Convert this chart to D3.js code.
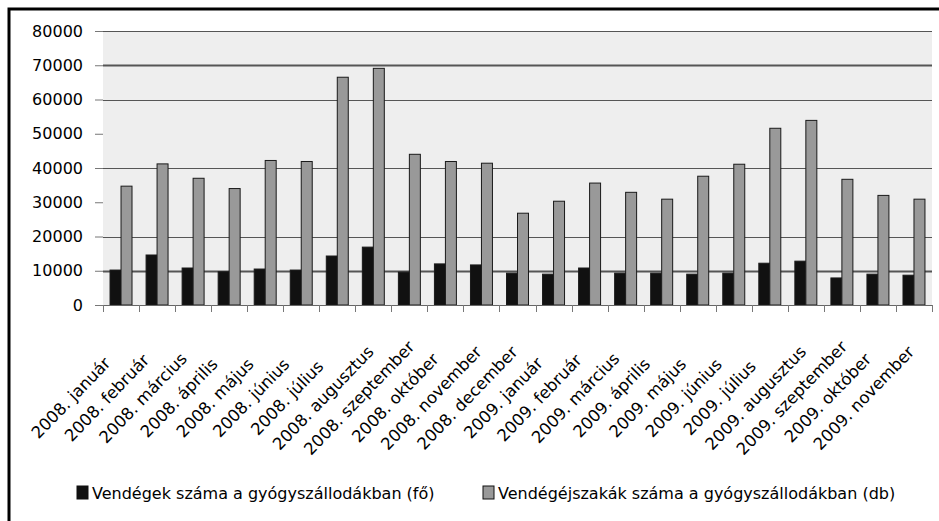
<!DOCTYPE html>
<html>
<head>
<meta charset="utf-8">
<script src="https://cdn.jsdelivr.net/npm/d3@7"></script>
<style>
	body { margin: 0; background: #fff; }
	svg { display: block; font-family: 'DejaVu Sans', sans-serif; }
</style>
</head>
<body>
<svg width="939" height="521"></svg>
<script>

let months = [
	'2008. január', '2008. február', '2008. március', '2008. április', '2008. május', '2008. június',
	'2008. július', '2008. augusztus', '2008. szeptember', '2008. október', '2008. november', '2008. december',
	'2009. január', '2009. február', '2009. március', '2009. április', '2009. május', '2009. június',
	'2009. július', '2009. augusztus', '2009. szeptember', '2009. október', '2009. november'
];

// Vendégek száma (fő)
let guests = [
	10200, 14600, 10800, 9700, 10500, 10200,
	14300, 16900, 9600, 12000, 11700, 9300,
	9000, 10800, 9300, 9300, 9000, 9300,
	12200, 12800, 7900, 9000, 8700
];

// Vendégéjszakák száma (db)
let nights = [
	34700, 41200, 37000, 34000, 42200, 41900,
	66500, 69100, 44000, 41900, 41400, 26800,
	30300, 35600, 32900, 30900, 37600, 41100,
	51600, 53900, 36700, 32000, 30900
];

let yTicks = [0, 10000, 20000, 30000, 40000, 50000, 60000, 70000, 80000];
// gridlines that survive in the original picture
let gridValues = [10000, 20000, 40000, 60000, 70000, 80000];
let boldGrid = [10000, 70000];

let seriesNames = [
	'Vendégek száma a gyógyszállodákban (fő)',
	'Vendégéjszakák száma a gyógyszállodákban (db)'
];
let seriesColors = ['#111111', '#999999'];

let svg = d3.select('svg');

let margin = { top: 31, right: 7, bottom: 216, left: 103 };
let width = +svg.attr('width') - margin.left - margin.right;
let height = +svg.attr('height') - margin.top - margin.bottom;

// outer frame (cut off on the right and bottom)
svg
	.append('rect')
	.attr('x', 9)
	.attr('y', 9)
	.attr('width', 1000)
	.attr('height', 600)
	.attr('fill', 'none')
	.attr('stroke', '#000')
	.attr('stroke-width', 3);

let chart = svg
	.append('g')
	.attr('transform', 'translate(' + margin.left + ', ' + margin.top + ')');

let x = d3
	.scaleBand()
	.domain(months)
	.range([0, width])
	.paddingInner(0)
	.paddingOuter(0);

let x1 = d3
	.scaleBand()
	.domain([0, 1])
	.range([0, x.bandwidth()])
	.paddingOuter(0.64)
	.paddingInner(0);

let y = d3
	.scaleLinear()
	.domain([0, 80000])
	.range([height, 0]);

chart
	.append('rect')
	.attr('width', width)
	.attr('height', height)
	.attr('fill', '#eeeeee');

chart
	.selectAll('.grid')
	.data(gridValues)
	.enter()
	.append('line')
	.attr('class', 'grid')
	.attr('x1', 0)
	.attr('x2', width)
	.attr('y1', d => Math.round(y(d)) + 0.5)
	.attr('y2', d => Math.round(y(d)) + 0.5)
	.attr('stroke', '#555')
	.attr('stroke-width', d => boldGrid.includes(d) ? 2 : 1);

// y axis
let yAxis = d3.axisLeft(y)
	.tickValues(yTicks)
	.tickSize(8)
	.tickPadding(12)
	.tickFormat(d3.format('d'));

let yg = chart
	.append('g')
	.call(yAxis);

yg.select('.domain').remove();
yg.selectAll('.tick line').attr('stroke', '#777');
yg.selectAll('.tick text')
	.attr('fill', '#000')
	.style('font-size', '16px')
	.style('font-family', "'DejaVu Sans', sans-serif");

// bars
let series = [guests, nights];

series.forEach((values, i) => {
	chart
		.selectAll('.bar' + i)
		.data(values)
		.enter()
		.append('rect')
		.attr('class', 'bar' + i)
		.attr('x', (d, j) => x(months[j]) + x1(i))
		.attr('y', d => y(d))
		.attr('width', x1.bandwidth())
		.attr('height', d => height - y(d))
		.attr('fill', seriesColors[i])
		.attr('stroke', '#1a1a1a')
		.attr('stroke-width', 1);
});

// x axis
let xAxis = d3.axisBottom(x)
	.tickSize(0)
	.tickFormat('');

let xg = chart
	.append('g')
	.attr('transform', 'translate(0, ' + height + ')')
	.call(xAxis);

xg.select('.domain').attr('stroke', '#666');

chart
	.append('g')
	.selectAll('line')
	.data(months.concat(['end']))
	.enter()
	.append('line')
	.attr('x1', (d, i) => Math.round(i * x.step()) + 0.5)
	.attr('x2', (d, i) => Math.round(i * x.step()) + 0.5)
	.attr('y1', height)
	.attr('y2', height + 7)
	.attr('stroke', '#777');

chart
	.append('g')
	.selectAll('text')
	.data(months)
	.enter()
	.append('text')
	.attr('transform', d => 'translate(' + (x(d) + x.bandwidth() / 2 - 50) + ', ' + (height + 93) + ') rotate(-46)')
	.attr('text-anchor', 'middle')
	.attr('dominant-baseline', 'central')
	.style('font-size', '16.5px')
	.text(d => d);

// legend
let legendX = [77, 483];
let legend = svg
	.append('g')
	.selectAll('g')
	.data(seriesNames)
	.enter()
	.append('g')
	.attr('transform', (d, i) => 'translate(' + legendX[i] + ', 486)');

legend
	.append('rect')
	.attr('width', 11)
	.attr('height', 13)
	.attr('fill', (d, i) => seriesColors[i])
	.attr('stroke', '#111');

legend
	.append('text')
	.attr('x', 15)
	.attr('y', 13)
	.style('font-size', '16px')
	.text(d => d);

</script>
</body>
</html>
